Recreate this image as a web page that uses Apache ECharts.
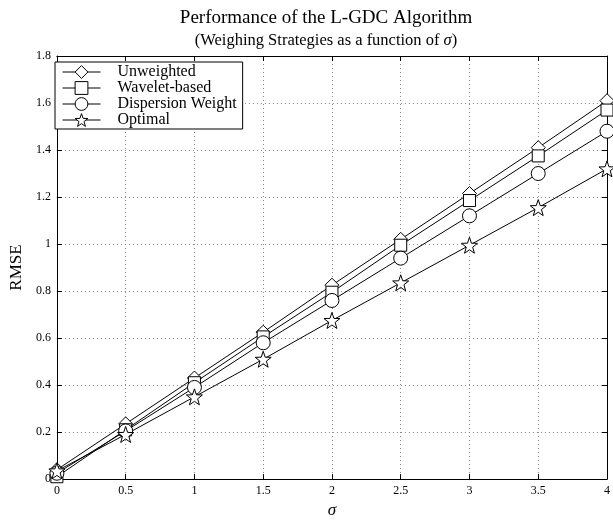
<!DOCTYPE html>
<html>
<head>
<meta charset="utf-8">
<script src="https://cdn.jsdelivr.net/npm/echarts@6/dist/echarts.min.js"></script>
<style>
  html, body { margin: 0; padding: 0; background: #fff; }
  #chart { width: 613px; height: 524px; }
</style>
</head>
<body>
<div id="chart"></div>
<script>
// sigma values on the x axis
const sigma = [0, 0.5, 1, 1.5, 2, 2.5, 3, 3.5, 4];

// RMSE of each weighing strategy
const unweighted = [0.04, 0.235, 0.43, 0.625, 0.825, 1.02, 1.215, 1.41, 1.61];
const waveletBased = [0.01, 0.21, 0.41, 0.605, 0.795, 0.995, 1.185, 1.375, 1.57];
const dispersionWeight = [0.025, 0.205, 0.39, 0.58, 0.76, 0.94, 1.12, 1.30, 1.48];
const optimal = [0.035, 0.19, 0.35, 0.51, 0.675, 0.835, 0.995, 1.155, 1.32];

const seriesNames = ['Unweighted', 'Wavelet-based', 'Dispersion Weight', 'Optimal'];

const FONT = '"Liberation Serif", "DejaVu Serif", serif';
const STAR = 'path://M0,-10L2.35,-3.24L9.51,-3.09L3.8,1.24L5.88,8.09L0,4.2L-5.88,8.09L-3.8,1.24L-9.51,-3.09L-2.35,-3.24Z';

function pairs(ys) {
  return sigma.map((s, i) => [s, ys[i]]);
}

function lineSeries(name, ys, symbol, size) {
  return {
    name: name,
    type: 'line',
    data: pairs(ys),
    symbol: symbol,
    symbolSize: size,
    showAllSymbol: true,
    lineStyle: { color: '#000', width: 1 },
    itemStyle: { color: '#fff', borderColor: '#000', borderWidth: 1 },
    emphasis: { disabled: true },
    animation: false,
    z: 3
  };
}

const chart = echarts.init(document.getElementById('chart'));

const dotted = { show: true, lineStyle: { color: '#888', type: [1, 3], width: 1 } };
const inTick = { show: true, inside: true, length: 5, lineStyle: { color: '#000' } };
const blackLine = { show: true, onZero: false, lineStyle: { color: '#000', width: 1 } };

chart.setOption({
  backgroundColor: '#fff',
  animation: false,
  title: {
    text: 'Performance of the L-GDC Algorithm',
    subtext: '(Weighing Strategies as a function of {i|σ})',
    left: 326,
    textAlign: 'center',
    top: 8,
    padding: 0,
    itemGap: 4,
    textStyle: { fontFamily: FONT, fontSize: 19, lineHeight: 20, fontWeight: 'normal', color: '#000' },
    subtextStyle: {
      fontFamily: FONT, fontSize: 16.5, lineHeight: 18, color: '#000',
      rich: { i: { fontFamily: FONT, fontSize: 16.5, lineHeight: 18, fontStyle: 'italic', color: '#000' } }
    }
  },
  legend: {
    orient: 'vertical',
    left: 55,
    top: 62,
    backgroundColor: '#fff',
    borderColor: '#000',
    borderWidth: 1,
    borderRadius: 0,
    padding: [2, 6, 1, 7],
    itemWidth: 38,
    itemHeight: 16,
    itemGap: 0,
    lineStyle: { width: 1, color: '#000' },
    itemStyle: { color: '#fff', borderColor: '#000', borderWidth: 1 },
    textStyle: {
      fontFamily: FONT, fontSize: 16, lineHeight: 16, color: '#000',
      padding: [0, 0, 0, 12]
    },
    data: seriesNames
  },
  grid: { left: 48, right: 3, top: 56, bottom: 31, containLabel: false },
  xAxis: [
    {
      type: 'value', min: 0, max: 4, interval: 0.5,
      name: 'σ', nameLocation: 'middle', nameGap: 16,
      nameTextStyle: { fontFamily: FONT, fontSize: 17, fontStyle: 'italic', color: '#000' },
      axisLine: blackLine,
      axisTick: inTick,
      axisLabel: { fontFamily: FONT, fontSize: 12, color: '#000', margin: 6 },
      splitLine: dotted
    },
    {
      type: 'value', min: 0, max: 4, interval: 0.5, position: 'top',
      axisLine: blackLine,
      axisTick: inTick,
      axisLabel: { show: false },
      splitLine: { show: false }
    }
  ],
  yAxis: [
    {
      type: 'value', min: 0, max: 1.8, interval: 0.2,
      name: 'RMSE', nameLocation: 'middle', nameGap: 25,
      nameTextStyle: { fontFamily: FONT, fontSize: 17, color: '#000' },
      axisLine: blackLine,
      axisTick: inTick,
      axisLabel: { fontFamily: FONT, fontSize: 12, color: '#000', margin: 6 },
      splitLine: dotted
    },
    {
      type: 'value', min: 0, max: 1.8, interval: 0.2, position: 'right',
      axisLine: blackLine,
      axisTick: inTick,
      axisLabel: { show: false },
      splitLine: { show: false }
    }
  ],
  series: [
    lineSeries(seriesNames[0], unweighted, 'diamond', 14),
    lineSeries(seriesNames[1], waveletBased, 'rect', 12),
    lineSeries(seriesNames[2], dispersionWeight, 'circle', 14),
    lineSeries(seriesNames[3], optimal, STAR, 16)
  ]
});
</script>
</body>
</html>
